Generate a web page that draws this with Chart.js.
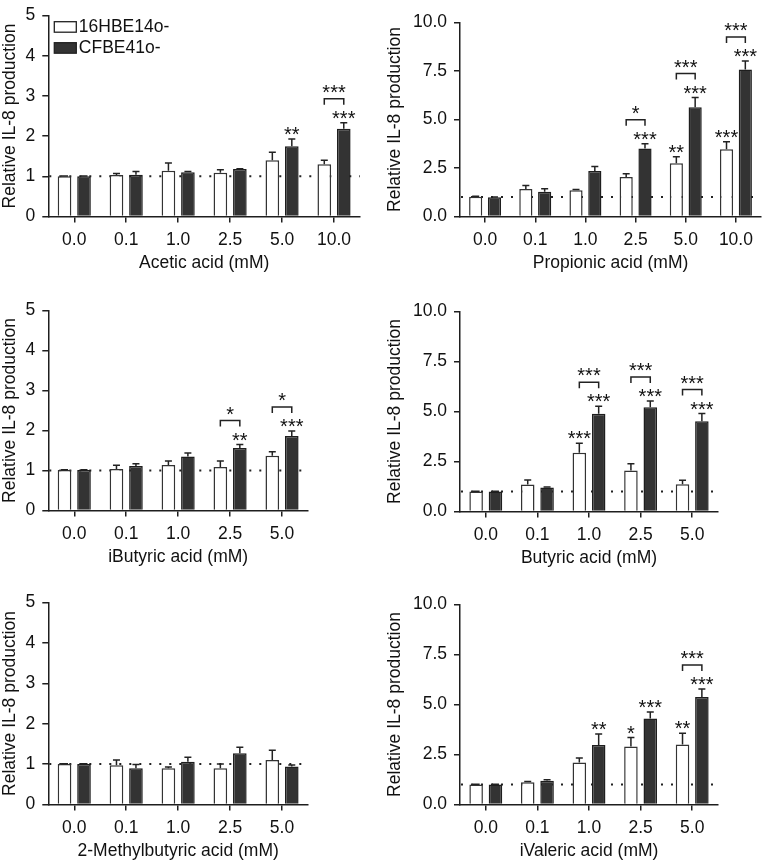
<!DOCTYPE html>
<html><head><meta charset="utf-8">
<script src="https://cdn.jsdelivr.net/npm/chart.js@4.4.1/dist/chart.umd.min.js"></script>
<style>
html,body{margin:0;padding:0;background:#fff;width:769px;height:863px;overflow:hidden;position:relative}
canvas{position:absolute}
</style></head><body>
<canvas id="c1"></canvas><canvas id="c2"></canvas><canvas id="c3"></canvas>
<canvas id="c4"></canvas><canvas id="c5"></canvas><canvas id="c6"></canvas>
<script>
// ---------- data ----------
const seriesLabels = ['16HBE14o-', 'CFBE41o-'];
const yTitle = 'Relative IL-8 production';
const doses6 = ['0.0', '0.1', '1.0', '2.5', '5.0', '10.0'];
const doses5 = ['0.0', '0.1', '1.0', '2.5', '5.0'];
const yTicks5 = [0, 1, 2, 3, 4, 5];
const yTicks10 = [0, 2.5, 5, 7.5, 10];
const baselineValue = 1;

// Acetic acid
const aceticHBE      = [1.00, 1.03, 1.14, 1.09, 1.40, 1.30];
const aceticHBEErr   = [0.01, 0.04, 0.19, 0.07, 0.20, 0.10];
const aceticCFBE     = [1.00, 1.04, 1.10, 1.18, 1.75, 2.18];
const aceticCFBEErr  = [0.01, 0.08, 0.02, 0.01, 0.18, 0.15];
const aceticHBEStars  = ['', '', '', '', '', ''];
const aceticCFBEStars = ['', '', '', '', '**', '***'];
const aceticPairStars = ['', '', '', '', '', '***'];

// Propionic acid
const propHBE      = [1.02, 1.42, 1.35, 2.03, 2.75, 3.47];
const propHBEErr   = [0.02, 0.18, 0.04, 0.17, 0.33, 0.38];
const propCFBE     = [0.99, 1.27, 2.35, 3.50, 5.63, 7.58];
const propCFBEErr  = [0.02, 0.16, 0.23, 0.25, 0.50, 0.44];
const propHBEStars  = ['', '', '', '', '**', '***'];
const propCFBEStars = ['', '', '', '***', '***', '***'];
const propPairStars = ['', '', '', '*', '***', '***'];

// iButyric acid
const ibutHBE      = [1.01, 1.04, 1.14, 1.09, 1.37];
const ibutHBEErr   = [0.01, 0.09, 0.10, 0.15, 0.10];
const ibutCFBE     = [1.01, 1.11, 1.35, 1.56, 1.86];
const ibutCFBEErr  = [0.01, 0.06, 0.09, 0.09, 0.13];
const ibutHBEStars  = ['', '', '', '', ''];
const ibutCFBEStars = ['', '', '', '**', '***'];
const ibutPairStars = ['', '', '', '*', '*'];

// Butyric acid
const butHBE      = [1.00, 1.35, 2.94, 2.05, 1.36];
const butHBEErr   = [0.01, 0.22, 0.47, 0.34, 0.20];
const butCFBE     = [1.00, 1.20, 4.89, 5.21, 4.51];
const butCFBEErr  = [0.01, 0.03, 0.37, 0.31, 0.39];
const butHBEStars  = ['', '', '***', '', ''];
const butCFBEStars = ['', '', '***', '***', '***'];
const butPairStars = ['', '', '***', '***', '***'];

// 2-Methylbutyric acid
const mbutHBE      = [1.00, 0.97, 0.90, 0.90, 1.10];
const mbutHBEErr   = [0.01, 0.13, 0.03, 0.10, 0.24];
const mbutCFBE     = [1.00, 0.90, 1.06, 1.27, 0.94];
const mbutCFBEErr  = [0.01, 0.09, 0.11, 0.15, 0.04];
const mbutHBEStars  = ['', '', '', '', ''];
const mbutCFBEStars = ['', '', '', '', ''];
const mbutPairStars = ['', '', '', '', ''];

// iValeric acid
const ivalHBE      = [1.00, 1.11, 2.10, 2.90, 3.00];
const ivalHBEErr   = [0.01, 0.04, 0.22, 0.45, 0.56];
const ivalCFBE     = [1.00, 1.19, 2.98, 4.30, 5.37];
const ivalCFBEErr  = [0.01, 0.05, 0.54, 0.33, 0.40];
const ivalHBEStars  = ['', '', '', '*', '**'];
const ivalCFBEStars = ['', '', '**', '***', '***'];
const ivalPairStars = ['', '', '', '', '***'];

// ---------- layout / style ----------
const FONT = '"Liberation Sans", Arial, Helvetica, sans-serif';
const AX = '#1e1e1e';
const TXT = '#111';
const PAD_TOP = 12, PAD_RIGHT = 8, XAXIS_H = 57.5;

const panels = [
  {id:'c1', title:'Acetic acid (mM)', doses:doses6, hbe:aceticHBE, hbeErr:aceticHBEErr, cfbe:aceticCFBE, cfbeErr:aceticCFBEErr,
   hs:aceticHBEStars, cs:aceticCFBEStars, ps:aceticPairStars, yMax:5, yTicks:yTicks5, legend:true,
   box:{x:0, axisW:48.3, top:10, bottom:216, right:360}},
  {id:'c2', title:'Propionic acid (mM)', doses:doses6, hbe:propHBE, hbeErr:propHBEErr, cfbe:propCFBE, cfbeErr:propCFBEErr,
   hs:propHBEStars, cs:propCFBEStars, ps:propPairStars, yMax:10, yTicks:yTicks10,
   box:{x:385, axisW:75, top:16.7, bottom:216.5, right:761}},
  {id:'c3', title:'iButyric acid (mM)', doses:doses5, hbe:ibutHBE, hbeErr:ibutHBEErr, cfbe:ibutCFBE, cfbeErr:ibutCFBEErr,
   hs:ibutHBEStars, cs:ibutCFBEStars, ps:ibutPairStars, yMax:5, yTicks:yTicks5,
   box:{x:0, axisW:48.3, top:305, bottom:510.7, right:308}},
  {id:'c4', title:'Butyric acid (mM)', doses:doses5, hbe:butHBE, hbeErr:butHBEErr, cfbe:butCFBE, cfbeErr:butCFBEErr,
   hs:butHBEStars, cs:butCFBEStars, ps:butPairStars, yMax:10, yTicks:yTicks10,
   box:{x:385, axisW:75, top:305.7, bottom:510.7, right:718.3}},
  {id:'c5', title:'2-Methylbutyric acid (mM)', doses:doses5, hbe:mbutHBE, hbeErr:mbutHBEErr, cfbe:mbutCFBE, cfbeErr:mbutCFBEErr,
   hs:mbutHBEStars, cs:mbutCFBEStars, ps:mbutPairStars, yMax:5, yTicks:yTicks5,
   box:{x:0, axisW:48.3, top:597.3, bottom:804.3, right:308}},
  {id:'c6', title:'iValeric acid (mM)', doses:doses5, hbe:ivalHBE, hbeErr:ivalHBEErr, cfbe:ivalCFBE, cfbeErr:ivalCFBEErr,
   hs:ivalHBEStars, cs:ivalCFBEStars, ps:ivalPairStars, yMax:10, yTicks:yTicks10,
   box:{x:385, axisW:75, top:599.3, bottom:805, right:718.3}}
];

function makeDecor(p) {
  return {
    id: 'decor',
    beforeDatasetsDraw(chart) {
      const {ctx, chartArea, scales:{y}} = chart;
      const yy = y.getPixelForValue(baselineValue);
      ctx.save();
      ctx.strokeStyle = '#222';
      ctx.lineWidth = 2;
      ctx.setLineDash([2, 8]);
      ctx.beginPath();
      ctx.moveTo(chartArea.left + 1, yy);
      ctx.lineTo(chartArea.right, yy);
      ctx.stroke();
      ctx.restore();
    },
    afterDatasetsDraw(chart) {
      const {ctx, chartArea, scales:{y}} = chart;
      ctx.save();
      ctx.strokeStyle = '#222';
      ctx.fillStyle = TXT;
      ctx.lineWidth = 1.5;
      const starFont = '20px ' + FONT;
      const starTop = [[], []];
      [[p.hbe, p.hbeErr, p.hs], [p.cfbe, p.cfbeErr, p.cs]].forEach(([vals, errs, stars], di) => {
        const meta = chart.getDatasetMeta(di);
        meta.data.forEach((bar, j) => {
          const yBar = y.getPixelForValue(vals[j]);
          const yErr = y.getPixelForValue(vals[j] + errs[j]);
          ctx.beginPath();
          ctx.moveTo(bar.x, yBar);
          ctx.lineTo(bar.x, yErr);
          ctx.moveTo(bar.x - 3.5, yErr);
          ctx.lineTo(bar.x + 3.5, yErr);
          ctx.stroke();
          let top = yErr;
          if (stars[j]) {
            const c = yErr - 9;
            ctx.font = starFont;
            ctx.textAlign = 'center';
            ctx.textBaseline = 'alphabetic';
            ctx.fillText(stars[j], bar.x, c + 11);
            top = c;
          }
          starTop[di][j] = top;
        });
      });
      const mW = chart.getDatasetMeta(0).data, mD = chart.getDatasetMeta(1).data;
      p.ps.forEach((s, j) => {
        if (!s) return;
        const xw = mW[j].x, xd = mD[j].x;
        const by = Math.min(starTop[0][j], starTop[1][j]) - 15;
        ctx.beginPath();
        ctx.moveTo(xw, by + 6);
        ctx.lineTo(xw, by);
        ctx.lineTo(xd, by);
        ctx.lineTo(xd, by + 6);
        ctx.stroke();
        ctx.font = starFont;
        ctx.textAlign = 'center';
        ctx.textBaseline = 'alphabetic';
        ctx.fillText(s, (xw + xd) / 2, by - 11 + 11);
      });
      if (p.legend) {
        const bx = chartArea.left + 6, bw = 22, bh = 10.5;
        const rows = [chartArea.top + 6.2, chartArea.top + 27.2];
        const ds = chart.data.datasets;
        ctx.font = '17.5px ' + FONT;
        ctx.textAlign = 'left';
        ctx.textBaseline = 'middle';
        rows.forEach((ry, i) => {
          ctx.fillStyle = ds[i].backgroundColor;
          ctx.fillRect(bx, ry, bw, bh);
          ctx.lineWidth = 1.3;
          ctx.strokeStyle = '#222';
          ctx.strokeRect(bx, ry, bw, bh);
          ctx.fillStyle = TXT;
          ctx.fillText(ds[i].label, bx + bw + 2.5, ry + bh / 2 + 0.5);
        });
      }
      ctx.restore();
    }
  };
}

panels.forEach(p => {
  const b = p.box;
  const cv = document.getElementById(p.id);
  const top = b.top - PAD_TOP;
  const w = b.right + PAD_RIGHT - b.x;
  const h = (b.bottom - top) + XAXIS_H;
  cv.width = Math.round(w); cv.height = Math.round(h);
  cv.style.left = b.x + 'px'; cv.style.top = top + 'px';
  cv.style.width = Math.round(w) + 'px'; cv.style.height = Math.round(h) + 'px';
  new Chart(cv, {
    type: 'bar',
    data: {
      labels: p.doses,
      datasets: [
        {label: seriesLabels[0], data: p.hbe, backgroundColor: '#ffffff', borderColor: '#333333', borderWidth: 1.5,
         borderSkipped: 'start', categoryPercentage: 0.75, barPercentage: 0.7},
        {label: seriesLabels[1], data: p.cfbe, backgroundColor: '#333333', borderColor: '#1e1e1e', borderWidth: 1.5,
         borderSkipped: 'start', categoryPercentage: 0.75, barPercentage: 0.7}
      ]
    },
    options: {
      responsive: false, animation: false, devicePixelRatio: 1,
      layout: {padding: {top: PAD_TOP, right: PAD_RIGHT, bottom: 0, left: 0}},
      plugins: {legend: {display: false}, tooltip: {enabled: false}},
      scales: {
        x: {
          type: 'category', offset: true,
          grid: {display: true, drawOnChartArea: false, drawTicks: true, tickLength: 6, offset: false, color: AX, lineWidth: 1.5},
          border: {display: true, color: AX, width: 1.5},
          ticks: {color: TXT, font: {family: FONT, size: 17.5}, padding: 7, maxRotation: 0, autoSkip: false},
          title: {display: true, text: p.title, color: TXT, font: {family: FONT, size: 17.5}, padding: {top: 0, bottom: 0}},
          afterFit: s => { s.height = XAXIS_H; }
        },
        y: {
          min: 0, max: p.yMax,
          afterBuildTicks: s => { s.ticks = p.yTicks.map(v => ({value: v})); },
          grid: {display: true, drawOnChartArea: false, drawTicks: true, tickLength: 6, color: AX, lineWidth: 1.5},
          border: {display: true, color: AX, width: 1.5},
          ticks: {color: TXT, font: {family: FONT, size: 17.5}, padding: 7,
                  callback: v => p.yMax > 5 ? Number(v).toFixed(1) : String(v)},
          title: {display: true, text: yTitle, color: TXT, font: {family: FONT, size: 17.5}, padding: {top: 0, bottom: 0}},
          afterFit: s => { s.width = b.axisW; }
        }
      }
    },
    plugins: [makeDecor(p)]
  });
});
</script>
</body></html>
